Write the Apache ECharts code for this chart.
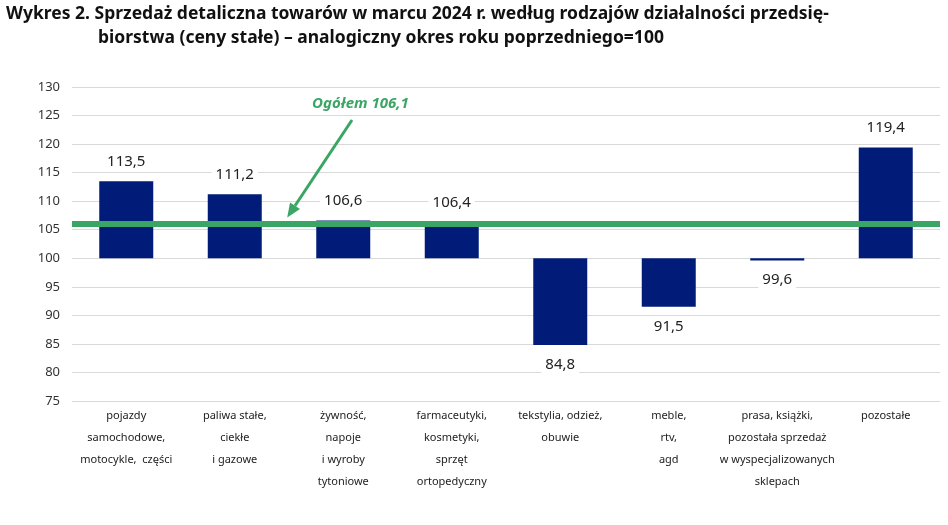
<!DOCTYPE html>
<html>
<head>
<meta charset="utf-8">
<script src="https://cdn.jsdelivr.net/npm/echarts@6/dist/echarts.min.js"></script>
<style>html,body{margin:0;background:#fff}#chart{width:948px;height:525px}</style>
</head>
<body>
<div id="chart"></div>
<script>
var categories = [
    'pojazdy\nsamochodowe,\nmotocykle,  części',
    'paliwa stałe,\nciekłe\ni gazowe',
    'żywność,\nnapoje\ni wyroby\ntytoniowe',
    'farmaceutyki,\nkosmetyki,\nsprzęt\nortopedyczny',
    'tekstylia, odzież,\nobuwie',
    'meble,\nrtv,\nagd',
    'prasa, książki,\npozostała sprzedaż\nw wyspecjalizowanych\nsklepach',
    'pozostałe'
];
var values = [113.5, 111.2, 106.6, 106.4, 84.8, 91.5, 99.6, 119.4];
var total = 106.1;
var baseline = 100;

var baseData = values.map(function(v) { return Math.min(v, baseline); });
var deltaData = values.map(function(v) {
    return {
        value: Math.abs(v - baseline),
        label: { position: v >= baseline ? 'top' : 'bottom' }
    };
});

var titleStyle = { fontSize: 17.5, fontWeight: 'bold', fill: '#111', fontFamily: '"Noto Sans", sans-serif' };
var titleGraphics = [
    { type: 'text', left: 6, top: 5, style: Object.assign({ text: 'Wykres 2. Sprzedaż detaliczna towarów w marcu 2024 r. według rodzajów działalności przedsię-' }, titleStyle) },
    { type: 'text', left: 98, top: 29, style: Object.assign({ text: 'biorstwa (ceny stałe) – analogiczny okres roku poprzedniego=100' }, titleStyle) }
];

var chart = echarts.init(document.getElementById('chart'));
chart.setOption({
    animation: false,
    textStyle: { fontFamily: '"Noto Sans", sans-serif' },
    graphic: titleGraphics,
    grid: { left: 72, right: 8, top: 87, bottom: 124 },
    xAxis: {
        type: 'category',
        data: categories,
        axisTick: { show: false },
        axisLine: { show: false },
        axisLabel: { interval: 0, fontSize: 11, lineHeight: 22, color: '#222', margin: 4 }
    },
    yAxis: {
        type: 'value',
        min: 75, max: 130, interval: 5,
        axisLabel: { fontSize: 13, color: '#333', margin: 12 },
        splitLine: { lineStyle: { color: '#d9d9d9' } }
    },
    series: [
        {
            type: 'bar', stack: 'a', data: baseData, barWidth: 54,
            itemStyle: { color: 'transparent' }, silent: true
        },
        {
            type: 'bar', stack: 'a', data: deltaData, barWidth: 54,
            itemStyle: { color: '#001c78' },
            label: {
                show: true, fontSize: 15, color: '#222', distance: 10,
                backgroundColor: '#fff', padding: [2, 4],
                formatter: function(p) { return values[p.dataIndex].toFixed(1).replace('.', ','); }
            },
            markLine: {
                silent: true, symbol: 'none',
                lineStyle: { color: '#3aa564', width: 6, type: 'solid' },
                label: { show: false },
                data: [{ yAxis: total }]
            }
        }
    ]
});

// arrow tip between 2nd and 3rd bar, just above the total line
var p2 = chart.convertToPixel({ xAxisIndex: 0, yAxisIndex: 0 }, [2, total]);
var tx = p2[0] - 56, ty = p2[1] - 6;
var sx = 352, sy = 120;
var ang = Math.atan2(ty - sy, tx - sx);
var hl = 14, hw = 6;
var bx = tx - hl * Math.cos(ang), by = ty - hl * Math.sin(ang);
chart.setOption({
    graphic: titleGraphics.concat([
        { type: 'text', x: 312, y: 96, style: { text: 'Ogółem ' + total.toFixed(1).replace('.', ','), fontSize: 15, fontWeight: 'bold', fontStyle: 'italic', fill: '#3aa564', fontFamily: '"Noto Sans", sans-serif' } },
        { type: 'line', shape: { x1: sx, y1: sy, x2: bx, y2: by }, style: { stroke: '#3aa564', lineWidth: 3 } },
        { type: 'polygon', shape: { points: [[tx, ty], [bx + hw * Math.sin(ang), by - hw * Math.cos(ang)], [bx - hw * Math.sin(ang), by + hw * Math.cos(ang)]] }, style: { fill: '#3aa564' } }
    ])
}, { replaceMerge: ['graphic'] });
</script>
</body>
</html>
